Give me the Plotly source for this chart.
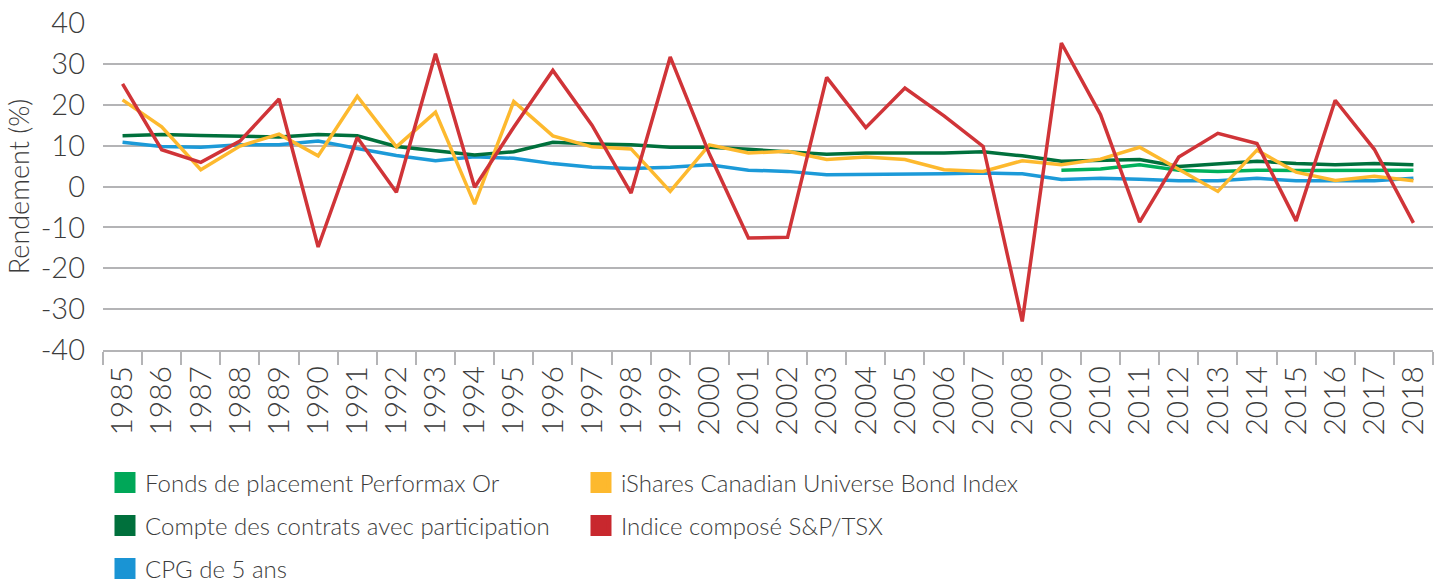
import plotly.graph_objects as go

years = [str(y) for y in range(1985, 2019)]

tsx = [25.1, 9.0, 5.9, 11.1, 21.4, -14.8, 12.0, -1.4, 32.5, -0.2,
       14.5, 28.4, 15.0, -1.6, 31.7, 8.0, -12.6, -12.4, 26.7, 14.4,
       24.1, 17.3, 9.8, -33.0, 35.1, 17.6, -8.7, 7.2, 13.0, 10.5,
       -8.4, 21.1, 9.1, -8.9]

bond = [21.2, 14.6, 4.1, 9.9, 12.8, 7.5, 22.1, 9.7, 18.2, -4.3,
        20.8, 12.4, 9.7, 9.2, -1.2, 10.2, 8.2, 8.6, 6.6, 7.2,
        6.6, 4.1, 3.7, 6.3, 5.3, 6.7, 9.6, 4.2, -1.2, 8.9,
        3.5, 1.5, 2.5, 1.4]

compte = [12.4, 12.7, 12.5, 12.2, 12.1, 12.7, 12.4, 9.8, 8.8, 7.7,
          8.5, 10.8, 10.4, 10.2, 9.6, 9.6, 9.1, 8.6, 7.9, 8.2,
          8.2, 8.2, 8.5, 7.5, 6.2, 6.5, 6.6, 4.9, 5.6, 6.2,
          5.6, 5.3, 5.6, 5.3]

cpg = [10.8, 9.8, 9.6, 10.2, 10.2, 11.1, 9.3, 7.6, 6.3, 7.3,
       6.9, 5.6, 4.7, 4.4, 4.7, 5.3, 4.0, 3.7, 2.9, 2.9,
       2.9, 3.1, 3.3, 3.1, 1.7, 2.0, 1.8, 1.4, 1.4, 2.0,
       1.4, 1.4, 1.4, 2.0]

performax = [None] * 24 + [4.0, 4.3, 5.3, 4.0, 3.7, 4.0, 3.9, 4.0, 4.0, 4.0]

y_tickvals = [-40, -30, -20, -10, 0, 10, 20, 30, 40]
y_ticktext = ["-40", "-30", "-20", "-10", "0", "10", "20", "30", "40"]

names = ["Fonds de placement Performax Or", "iShares Canadian Universe Bond Index",
         "Compte des contrats avec participation", "Indice composé S&P/TSX",
         "CPG de 5 ans"]
colors = {"perf": "#00a758", "bond": "#fdb92e", "compte": "#00703c",
          "tsx": "#c8282e", "cpg": "#1a94d4"}
line_colors = {"perf": "#00b05c", "bond": "#fdb92e", "compte": "#00703c",
               "tsx": "#d03438", "cpg": "#1c9ad8"}

FONT = "Lato"
TXT = "#3c3c3c"
GRID = "#b4b4b6"

fig = go.Figure()

series = [("cpg", cpg), ("compte", compte), ("perf", performax), ("bond", bond), ("tsx", tsx)]
for key, vals in series:
    fig.add_trace(go.Scatter(x=years, y=vals, mode="lines",
                             line=dict(color=line_colors[key], width=3.5),
                             showlegend=False, hoverinfo="x+y"))

legend_items = [("perf", names[0], "legend"), ("bond", names[1], "legend"),
                ("compte", names[2], "legend2"), ("tsx", names[3], "legend2"),
                ("cpg", names[4], "legend3")]
for key, name, lg in legend_items:
    fig.add_trace(go.Scatter(x=[None], y=[None], mode="markers", name=name,
                             marker=dict(symbol="square", size=16, color=colors[key],
                                         line=dict(color=colors[key], width=5)),
                             legend=lg, showlegend=True))

def row_y(px):
    return (350 - px) / 327.0

legend_common = dict(orientation="h", xanchor="left", yanchor="middle",
                     x=0.0015, entrywidth=431, entrywidthmode="pixels",
                     font=dict(family=FONT, size=24, color=TXT, weight=300),
                     bgcolor="rgba(0,0,0,0)", itemclick=False, itemdoubleclick=False)

fig.update_layout(
    width=1438, height=582,
    margin=dict(l=103, r=5, t=23, b=232, pad=0, autoexpand=False),
    paper_bgcolor="white", plot_bgcolor="white",
    font=dict(family=FONT, color=TXT, weight=300),
    legend=dict(**legend_common, y=row_y(483)),
    legend2=dict(**legend_common, y=row_y(526)),
    legend3=dict(**legend_common, y=row_y(569)),
    xaxis=dict(type="category", categoryorder="array", categoryarray=years,
               tickangle=-90, tickfont=dict(family=FONT, size=30, color=TXT, weight=300),
               showgrid=False, showline=True, linecolor=GRID, linewidth=2,
               ticks="outside", tickson="boundaries", ticklen=13, tickwidth=2,
               tickcolor=GRID, zeroline=False, range=[-0.5, 33.5], automargin=False,
               ticklabelstandoff=2),
    yaxis=dict(range=[-40, 40], tickvals=y_tickvals, ticktext=y_ticktext,
               tickfont=dict(family=FONT, size=29, color=TXT, weight=300),
               showgrid=True, gridcolor=GRID, gridwidth=2,
               zeroline=True, zerolinecolor=GRID, zerolinewidth=2,
               ticks="", ticklabelstandoff=17, automargin=False,
               title=dict(text="Rendement (%)", standoff=3,
                          font=dict(family=FONT, size=27, color=TXT, weight=300))),
)

fig.write_html("out.html", config={"displayModeBar": False},
               post_script="document.body.style.margin='0';")
